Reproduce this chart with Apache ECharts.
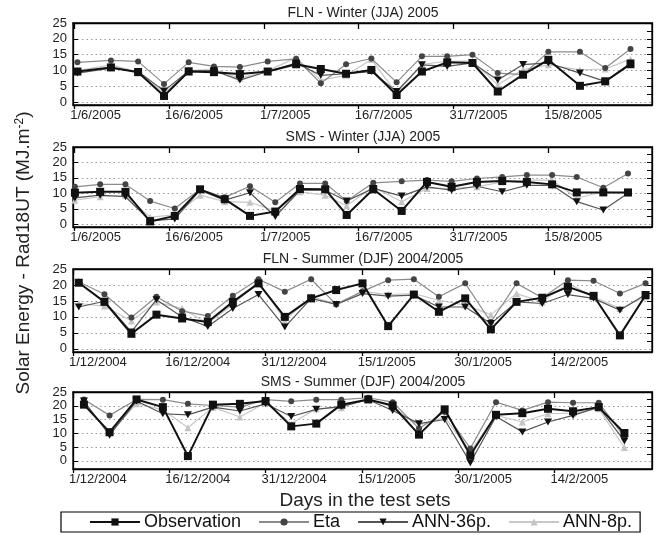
<!DOCTYPE html>
<html>
<head>
<meta charset="utf-8" />
<title>Solar energy - test sets</title>
<style>
  html, body { margin: 0; padding: 0; background: #fff; }
  #chart { width: 662px; height: 535px; }
</style>
</head>
<body>
<div id="chart"></div>
<script src="https://cdn.jsdelivr.net/npm/echarts@6/dist/echarts.min.js"></script>
<script>
// tick labels
var winterTicks = ['1/6/2005', '16/6/2005', '1/7/2005', '16/7/2005', '31/7/2005', '15/8/2005'];
var summerTicks = ['1/12/2004', '16/12/2004', '31/12/2004', '15/1/2005', '30/1/2005', '14/2/2005'];
var tickDays = [0, 15, 30, 45, 60, 75];
var yTicks = [0, 5, 10, 15, 20, 25];
var seriesNames = ['Observation', 'Eta', 'ANN-36p.', 'ANN-8p.'];

// FLN - Winter (JJA) 2005 (days after 1/6/2005)
var flnWinterDays = [0.5, 5.8, 10.1, 14.2, 18.1, 22.1, 26.2, 30.6, 35.1, 39, 43, 47, 51, 55, 59, 63, 67, 71, 75, 80, 84, 88];
var flnWinterObs = [9.7, 11, 9.5, 2, 9.7, 9.5, 8.9, 9.7, 12, 10.5, 9, 10.2, 2.3, 9.7, 12.6, 12.4, 3.4, 8.7, 13.4, 5.2, 6.6, 12];
var flnWinterEta = [12.6, 13.2, 12.9, 5.8, 12.6, 11.3, 11.1, 12.9, 13.7, 6, 12, 13.8, 6.3, 14.5, 14.5, 15, 9.2, 8.7, 15.9, 15.9, 10.8, 16.8];
var flnWinterAnn36 = [9.2, 10.8, 9.7, 3.6, 9.9, 10, 7, 9.7, 12.4, 8.5, 9, 9.7, 3.4, 11.8, 11.3, 12.4, 7, 11.9, 12.4, 9.2, 6.6, 12.4];
var flnWinterAnn8 = [10, 11.8, 9.5, 2.9, 10, 10.5, 7.6, 10, 14, 7, 8.5, 13.5, 2.8, 12, 12.9, 13, 5.5, 10.3, 11.8, 10.2, 10.5, 13.6];

// SMS - Winter (JJA) 2005
var smsWinterDays = [0.1, 4.1, 8.1, 12, 15.9, 19.9, 23.8, 27.8, 31.8, 35.7, 39.7, 43.1, 47.3, 51.8, 55.8, 59.7, 63.7, 67.7, 71.6, 75.6, 79.5, 83.7, 87.6];
var smsWinterObs = [10.2, 10.5, 10.5, 0.9, 2.7, 11.3, 8.1, 2.7, 4.1, 11.4, 11.3, 3, 11.3, 4.3, 13.7, 12.1, 13.7, 14, 13.7, 12.9, 10.3, 10.3, 10.3];
var smsWinterEta = [12.1, 12.9, 12.9, 7.5, 5.1, 11.3, 8.7, 12.3, 7.1, 13.2, 13.2, 7.5, 13.4, 13.9, 14.3, 13.9, 14.8, 15.3, 15.9, 15.9, 15.3, 11.8, 16.4];
var smsWinterAnn36 = [8.5, 9.4, 8.9, 1.1, 1.7, 11, 7.8, 10.2, 2.5, 11, 11, 7.5, 11.6, 9.1, 12.1, 11, 12.3, 10.5, 12.6, 12.6, 7.3, 4.6, 10];
var smsWinterAnn8 = [7.8, 8.9, 9.4, 2.3, 3, 9.4, 7.3, 7.1, 4.3, 10.5, 9.4, 6, 12.1, 7.3, 11.6, 11.6, 12.1, 13.7, 14.3, 14.3, 8.4, 10.5, 10];

// FLN - Summer (DJF) 2004/2005 (days after 1/12/2004)
var flnSummerDays = [0.9, 4.9, 9.1, 13, 17, 21, 24.9, 28.9, 33, 37.1, 41, 45.1, 49.1, 53.1, 57, 61.1, 65.1, 69.1, 73.1, 77.1, 81.1, 85.2, 89.2];
var flnSummerObs = [20.7, 14.7, 4.7, 10.7, 9.5, 8.4, 14.7, 20.5, 10, 15.8, 18.4, 20.5, 7.1, 17, 11.6, 15.8, 6.1, 14.7, 16, 19.4, 16.6, 4.2, 16.8];
var flnSummerEta = [21, 17.1, 9.8, 16.3, 11.8, 10.3, 16.6, 21.8, 17.9, 21.8, 13.9, 18, 21.5, 21.8, 16.3, 20.5, 8.4, 20.5, 16, 21.5, 21.3, 17.3, 20.5];
var flnSummerAnn36 = [13.1, 14.9, 5.3, 15.4, 10, 7, 12.6, 17, 6.8, 15.8, 13.9, 17.3, 16.5, 16.8, 13.1, 13.1, 7.9, 14.7, 14.2, 17, 15.8, 12.1, 17];
var flnSummerAnn8 = [14.2, 13.4, 8.7, 14.7, 12.6, 7.9, 13.9, 21, 8.9, 16.3, 14.2, 18, 17, 17.3, 15.2, 13.7, 10.7, 17.3, 14.7, 20.5, 16.3, 12.6, 16.3];

// SMS - Summer (DJF) 2004/2005
var smsSummerDays = [1.7, 5.7, 9.9, 14, 17.9, 21.8, 26, 30, 34, 37.9, 41.8, 46, 49.8, 53.9, 57.9, 61.9, 65.9, 70, 74, 77.9, 81.9, 85.9];
var smsSummerObs = [20.4, 10.4, 22.3, 19.5, 1.7, 20.4, 20.7, 21.7, 12.5, 13.5, 20.4, 22.3, 20.1, 9.5, 18.7, 2, 16.7, 17.3, 18.9, 18, 19.5, 10.1];
var smsSummerEta = [22.3, 16.5, 22.3, 22.2, 20.7, 20.1, 19.5, 22.2, 21.6, 22.2, 22.2, 22.9, 21.3, 11.7, 17.7, 4.5, 21.3, 18.3, 21.3, 21.1, 21.1, 8.7];
var smsSummerAnn36 = [21.7, 9.3, 21.7, 17.1, 16.7, 19.5, 18.1, 20.7, 16.1, 18.7, 19.8, 22.2, 18.3, 13.5, 15, -0.7, 16.1, 10.5, 14.1, 16.5, 19.5, 7.2];
var smsSummerAnn8 = [20.7, 10.1, 20.7, 18.6, 12, 19.5, 15.9, 21.1, 13.5, 18.9, 19.3, 22.5, 19.5, 12.9, 15.9, 3.3, 16.5, 14.1, 17.1, 17.3, 18.9, 4.8];

var panels = [
  { title: 'FLN - Winter (JJA) 2005', ticks: winterTicks, days: flnWinterDays,
    vals: [flnWinterObs, flnWinterEta, flnWinterAnn36, flnWinterAnn8], top: 23, height: 82, ymin: -0.85, xmin: -0.2, xmax: 91.4 },
  { title: 'SMS - Winter (JJA) 2005', ticks: winterTicks, days: smsWinterDays,
    vals: [smsWinterObs, smsWinterEta, smsWinterAnn36, smsWinterAnn8], top: 147, height: 80, ymin: -0.9, xmin: -0.2, xmax: 91.4 },
  { title: 'FLN - Summer (DJF) 2004/2005', ticks: summerTicks, days: flnSummerDays,
    vals: [flnSummerObs, flnSummerEta, flnSummerAnn36, flnSummerAnn8], top: 269, height: 83, ymin: -1, xmin: 0, xmax: 90.2 },
  { title: 'SMS - Summer (DJF) 2004/2005', ticks: summerTicks, days: smsSummerDays,
    vals: [smsSummerObs, smsSummerEta, smsSummerAnn36, smsSummerAnn8], top: 392, height: 77, ymin: -3, xmin: 0, xmax: 90.2 }
];

var downTri = 'path://M0,0 L10,0 L5,9 Z';
var styles = [
  { symbol: 'rect', size: 8, mark: '#111', line: '#111', width: 2, z: 5 },
  { symbol: 'circle', size: 6, mark: '#444', line: '#8c8c8c', width: 1.2, z: 3 },
  { symbol: downTri, size: [8, 7], mark: '#111', line: '#555', width: 1.2, z: 4 },
  { symbol: 'triangle', size: 7, mark: '#c4c4c4', line: '#c8c8c8', width: 1.2, z: 2 }
];

var font = 'Liberation Sans';
var grids = [], xAxes = [], yAxes = [], series = [], titles = [];

panels.forEach(function (p, i) {
  grids.push({ left: 73, right: 10, top: p.top, height: p.height, show: true,
    borderColor: '#000', borderWidth: 1.3, backgroundColor: 'transparent' });
  titles.push({ text: p.title, left: 363, top: p.top - 17, textAlign: 'center', padding: 0,
    textStyle: { fontFamily: font, fontSize: 14, fontWeight: 'normal', color: '#222' } });

  var lbl = p.ticks;
  // bottom axis with date labels
  xAxes.push({ type: 'value', gridIndex: i, min: p.xmin, max: p.xmax,
    axisLine: { show: true, onZero: false, lineStyle: { color: '#000', width: 1.3 } },
    axisTick: { show: true, inside: false, length: 4, customValues: tickDays, lineStyle: { color: '#000', width: 1.3 } },
    axisLabel: { customValues: tickDays, align: 'left', margin: 4, padding: [0, 0, 0, -4],
      fontFamily: font, fontSize: 13, color: '#222',
      formatter: function (v) { return lbl[Math.round(v / 15)] || ''; } },
    splitLine: { show: false } });
  // top axis, ticks only
  xAxes.push({ type: 'value', gridIndex: i, position: 'top', min: p.xmin, max: p.xmax,
    axisLine: { show: true, onZero: false, lineStyle: { color: '#000', width: 1.3 } },
    axisTick: { show: true, inside: true, length: 6, customValues: tickDays, lineStyle: { color: '#000', width: 1.3 } },
    axisLabel: { show: false }, splitLine: { show: false } });

  yAxes.push({ type: 'value', gridIndex: i, min: p.ymin, max: 25,
    axisLine: { show: true, onZero: false, lineStyle: { color: '#000', width: 1.3 } },
    axisTick: { show: true, inside: true, length: 5, customValues: yTicks, lineStyle: { color: '#000' } },
    axisLabel: { customValues: yTicks, margin: 6, fontFamily: font, fontSize: 13, color: '#222' },
    splitLine: { show: true, lineStyle: { color: '#9a9a9a', type: [1.5, 3], width: 1 } } });
  yAxes.push({ type: 'value', gridIndex: i, position: 'right', min: p.ymin, max: 25,
    axisLine: { show: true, onZero: false, lineStyle: { color: '#000', width: 1.3 } },
    axisTick: { show: true, inside: true, length: 5, customValues: [2.5, 5, 7.5, 10, 12.5, 15, 17.5, 20, 22.5], lineStyle: { color: '#000' } },
    axisLabel: { show: false }, splitLine: { show: false } });

  // draw light series first so observation is on top
  [3, 1, 2, 0].forEach(function (k) {
    var st = styles[k];
    series.push({
      name: seriesNames[k], type: 'line', xAxisIndex: i * 2, yAxisIndex: i * 2,
      data: p.days.map(function (d, j) { return [d, p.vals[k][j]]; }),
      symbol: st.symbol, symbolSize: st.size, showAllSymbol: true,
      itemStyle: { color: st.mark, borderColor: st.mark, borderWidth: 0 },
      lineStyle: { color: st.line, width: st.width },
      z: st.z, animation: false, silent: true
    });
  });
});

var chart = echarts.init(document.getElementById('chart'));
chart.setOption({
  backgroundColor: '#fff',
  animation: false,
  title: titles,
  grid: grids,
  xAxis: xAxes,
  yAxis: yAxes,
  legend: {
    data: seriesNames, left: 61, top: 512, selectedMode: false,
    itemWidth: 50, itemHeight: 9, itemGap: 17,
    padding: [1, 8, 1, 28],
    borderColor: '#000', borderWidth: 1.2,
    textStyle: { fontFamily: font, fontSize: 18, color: '#111', padding: [0, 0, 0, -1] }
  },
  graphic: [
    { type: 'text', x: 365, y: 501, style: { text: 'Days in the test sets', fontFamily: font, fontSize: 19,
        fill: '#222', align: 'center', verticalAlign: 'middle' } },
    { type: 'text', x: 24, y: 253, rotation: Math.PI / 2,
      style: { text: '{a|Solar Energy - Rad18UT (MJ.m}{s|-2}{a|)}', align: 'center', verticalAlign: 'middle',
        rich: { a: { fontFamily: font, fontSize: 19, fill: '#222', color: '#222' },
                s: { fontFamily: font, fontSize: 12, fill: '#222', color: '#222', verticalAlign: 'top', padding: [0, 0, 8, 0] } } } }
  ],
  series: series
});
</script>
</body>
</html>
